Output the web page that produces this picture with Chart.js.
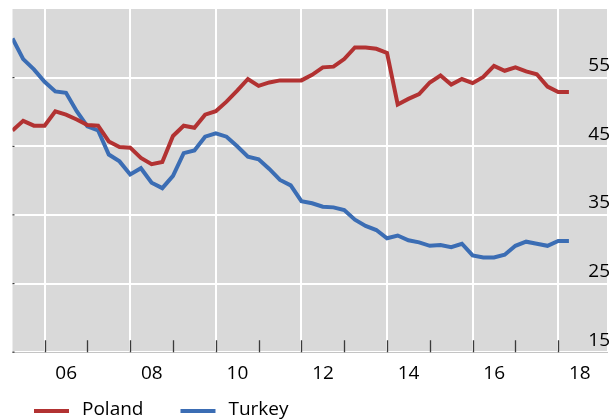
<!DOCTYPE html>
<html>
<head>
<meta charset="utf-8">
<script src="https://cdn.jsdelivr.net/npm/chart.js@4.4.0/dist/chart.umd.min.js"></script>
<style>
  html, body { margin: 0; padding: 0; background: #fff; }
  canvas { display: block; }
</style>
</head>
<body>
<canvas id="debtChart" width="613" height="419"></canvas>
<script>
// quarterly series, 2005Q2 - 2018Q2
const firstQuarter = 2005.25;
const poland = [
    47.3, 48.7, 48.0, 48.0, 50.1, 49.6, 48.9, 48.1, 48.0, 45.7,
    44.9, 44.8, 43.3, 42.4, 42.7, 46.5, 48.0, 47.7, 49.6, 50.1,
    51.5, 53.1, 54.8, 53.8, 54.3, 54.6, 54.6, 54.6, 55.4, 56.5,
    56.6, 57.7, 59.4, 59.4, 59.2, 58.6, 51.1, 51.9, 52.6, 54.3,
    55.3, 54.0, 54.8, 54.2, 55.1, 56.7, 56.0, 56.5, 55.9, 55.5,
    53.7, 52.9, 52.9
];
const turkey = [
    60.7, 57.7, 56.2, 54.4, 53.0, 52.8, 50.1, 47.9, 47.3, 43.8,
    42.8, 40.9, 41.8, 39.7, 38.9, 40.7, 44.0, 44.4, 46.4, 46.9,
    46.4, 45.0, 43.5, 43.1, 41.7, 40.1, 39.3, 37.0, 36.7, 36.2,
    36.1, 35.7, 34.3, 33.4, 32.8, 31.6, 32.0, 31.3, 31.0, 30.5,
    30.6, 30.3, 30.8, 29.1, 28.8, 28.8, 29.2, 30.5, 31.1, 30.8,
    30.5, 31.2, 31.2
];
const years = [2006, 2007, 2008, 2009, 2010, 2011, 2012, 2013, 2014, 2015, 2016, 2017, 2018, 2019];
const yTicks = [15, 25, 35, 45, 55];

const quarters = poland.map((_, i) => firstQuarter + i * 0.25);
const toPoints = values => values.map((v, i) => ({ x: quarters[i], y: v }));

const FONT = { family: '"Open Sans", sans-serif', size: 19 };

// grey panel behind the plot
const plotBackground = {
    id: 'plotBackground',
    beforeDraw(chart) {
        const { ctx, chartArea: a } = chart;
        ctx.save();
        ctx.fillStyle = '#d9d9d9';
        ctx.fillRect(a.left, a.top, a.right - a.left, a.bottom - a.top);
        ctx.restore();
    }
};

// small year ticks standing on the bottom edge
const yearTicks = {
    id: 'yearTicks',
    afterDatasetsDraw(chart) {
        const { ctx, chartArea: a, scales } = chart;
        ctx.save();
        ctx.strokeStyle = '#3a3a3a';
        ctx.lineWidth = 1.3;
        ctx.beginPath();
        years.forEach(yr => {
            if (yr > 2018) return;
            const px = Math.round(scales.x.getPixelForValue(yr)) + 0.5;
            ctx.moveTo(px, a.bottom);
            ctx.lineTo(px, a.bottom - 12);
        });
        yTicks.forEach(v => {
            const py = scales.y.getPixelForValue(v);
            ctx.moveTo(a.left, py);
            ctx.lineTo(a.left + 2, py);
        });
        ctx.stroke();
        ctx.restore();
    }
};

// legend row under the axis
const legendRow = {
    id: 'legendRow',
    afterDraw(chart) {
        const { ctx } = chart;
        const y = 411;
        let x = 34;
        ctx.save();
        ctx.font = `${FONT.size}px ${FONT.family}`;
        ctx.textBaseline = 'middle';
        ctx.fillStyle = '#000';
        chart.data.datasets.forEach(ds => {
            ctx.strokeStyle = ds.borderColor;
            ctx.lineWidth = 4;
            ctx.beginPath();
            ctx.moveTo(x, y);
            ctx.lineTo(x + 35, y);
            ctx.stroke();
            ctx.fillText(ds.label, x + 48, y - 1);
            x += 48 + ctx.measureText(ds.label).width + 37;
        });
        ctx.restore();
    }
};

const ctx = document.getElementById('debtChart').getContext('2d');
new Chart(ctx, {
    type: 'line',
    data: {
        datasets: [{
            label: 'Poland',
            data: toPoints(poland),
            borderColor: '#b23232',
            borderWidth: 4,
            pointRadius: 0,
            tension: 0,
            fill: false
        }, {
            label: 'Turkey',
            data: toPoints(turkey),
            borderColor: '#3b6db4',
            borderWidth: 4,
            pointRadius: 0,
            tension: 0,
            fill: false
        }]
    },
    options: {
        responsive: false,
        animation: false,
        layout: {
            padding: { left: 12.5, top: 9, right: 0, bottom: 24 }
        },
        plugins: {
            legend: { display: false },
            tooltip: { enabled: false }
        },
        scales: {
            x: {
                type: 'linear',
                min: firstQuarter,
                max: 2019.14,
                afterBuildTicks: scale => {
                    scale.ticks = years.map(v => ({ value: v }));
                },
                grid: {
                    color: c => (c.tick && c.tick.value % 2 === 0) ? '#ffffff' : 'rgba(0,0,0,0)',
                    lineWidth: 2,
                    drawTicks: false
                },
                border: { display: true, color: '#c4c4c4', width: 1 },
                ticks: {
                    autoSkip: false,
                    maxRotation: 0,
                    labelOffset: 21.6,
                    padding: 10,
                    color: '#000',
                    font: FONT,
                    callback: v => v % 2 === 0 && v <= 2018 ? String(v).slice(2) : ''
                }
            },
            y: {
                position: 'right',
                min: 15,
                max: 65,
                afterBuildTicks: scale => {
                    scale.ticks = yTicks.map(v => ({ value: v }));
                },
                // labels sit inside the panel, so no edge padding is needed
                afterFit: scale => {
                    scale.paddingTop = 0;
                    scale.paddingBottom = 0;
                },
                grid: {
                    color: '#ffffff',
                    lineWidth: 2,
                    drawTicks: false
                },
                border: { display: false },
                ticks: {
                    mirror: true,
                    labelOffset: -12,
                    padding: 3,
                    color: '#000',
                    font: FONT
                }
            }
        }
    },
    plugins: [plotBackground, yearTicks, legendRow]
});
</script>
</body>
</html>
